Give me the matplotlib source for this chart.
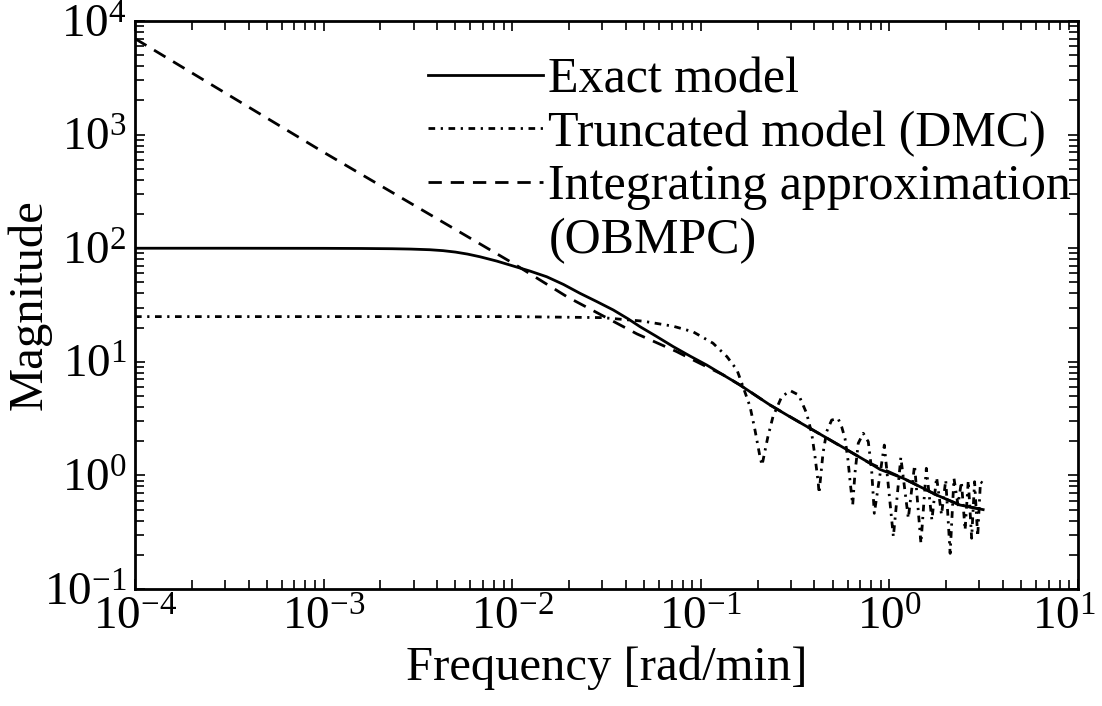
import matplotlib

matplotlib.use("Agg")
import matplotlib.pyplot as plt
from matplotlib.lines import Line2D
from matplotlib.transforms import ScaledTranslation

# values (frequency in rad/min, magnitude)
exact_w = [1e-4, 3e-4, 1e-3, 1.6e-3, 2.3e-3, 0.0029, 0.00366, 0.0043, 0.005, 0.0058,
           0.00675, 0.0083, 0.01014, 0.0124, 0.01524, 0.0187, 0.02288, 0.028, 0.03436,
           0.041, 0.0476, 0.058, 0.0715, 0.088, 0.1075, 0.13, 0.1614, 0.206, 0.2328,
           0.3, 0.379, 0.55, 0.789, 0.891, 1.185, 1.781, 2.366, 3.1416]
exact_mag = [100, 100, 99.8, 99.5, 99.0, 98.3, 97.0, 95.2, 92.5, 88.8,
             84.1, 77.0, 69.7, 63.0, 56.1, 48.0, 40.1, 34.0, 28.6,
             24.0, 20.4, 16.8, 13.6, 11.2, 9.37, 7.75, 6.25, 4.77, 4.17,
             3.25, 2.60, 1.82, 1.28, 1.13, 0.943, 0.672, 0.549, 0.50]

integ_w = [1e-4, 1e-3, 0.01012, 0.01953, 0.0459, 0.0745, 0.0909, 0.131, 0.1614,
           0.2328, 0.379, 0.789, 1.185, 1.781, 2.366, 3.1416]
integ_mag = [7000, 700, 73.6, 37.4, 17.6, 12.3, 10.4, 7.7, 6.25,
             4.17, 2.60, 1.28, 0.943, 0.672, 0.549, 0.50]

dmc_w = [1e-4, 1e-3, 0.01, 0.03, 0.0494, 0.0712, 0.0909, 0.116, 0.1377, 0.1556,
         0.1675, 0.1825, 0.1938, 0.206, 0.2112,
         0.2269, 0.2414, 0.2685, 0.2984, 0.3307, 0.3641, 0.3873, 0.4034, 0.4199, 0.4236,
         0.4446, 0.465, 0.4943, 0.534, 0.5585, 0.5816, 0.6031, 0.618, 0.6389,
         0.657, 0.684, 0.727, 0.773, 0.805, 0.832,
         0.94, 1.05, 1.15, 1.26, 1.36, 1.47, 1.57, 1.68, 1.78, 1.89, 1.99, 2.10,
         2.20, 2.31, 2.41, 2.52, 2.62, 2.73, 2.83, 2.94, 3.04, 3.1416]
dmc_mag = [25, 25, 25, 24.5, 22.8, 20.6, 18.4, 14.6, 11.1, 8.47,
           6.04, 4.03, 2.51, 1.46, 1.23,
           2.19, 3.29, 4.93, 5.57, 5.10, 3.52, 2.35, 1.46, 0.852, 0.696,
           1.565, 2.43, 3.07, 3.18, 2.68, 2.12, 1.37, 0.911, 0.549,
           1.05, 1.92, 2.35, 1.98, 1.12, 0.464,
           1.85, 0.289, 1.44, 0.42, 1.23, 0.252, 1.155, 0.405, 0.962, 0.45, 0.911, 0.206,
           0.943, 0.55, 0.88, 0.33, 0.90, 0.28, 0.88, 0.29, 0.88, 0.85]

x_decades = [1e-4, 1e-3, 1e-2, 1e-1, 1e0, 1e1]
labels = ["Exact model", "Truncated model (DMC)", "Integrating approximation", "(OBMPC)"]

plt.rcParams["font.family"] = ["Liberation Serif", "DejaVu Serif"]
plt.rcParams["mathtext.fontset"] = "custom"
plt.rcParams["mathtext.rm"] = "Liberation Serif"
plt.rcParams["mathtext.it"] = "Liberation Serif:italic"
plt.rcParams["mathtext.bf"] = "Liberation Serif:bold"

fig = plt.figure(figsize=(11.02, 7.06), dpi=100)
ax = fig.add_axes([0.1225, 0.1657, 0.8557, 0.8045])

lw = 2.0
l_exact, = ax.loglog(exact_w, exact_mag, color="black", lw=lw, ls="-")
l_dmc, = ax.loglog(dmc_w, dmc_mag, color="black", lw=lw, ls=(0, (2.4, 2.0, 0.8, 2.0)))
l_int, = ax.loglog(integ_w, integ_mag, color="black", lw=lw, ls=(0, (4.8, 3.2)))

ax.set_xlim(1e-4, 1e1)
ax.set_ylim(1e-1, 1e4)
ax.set_xticks(x_decades)
ax.set_xlabel("Frequency [rad/min]", fontsize=35, labelpad=4)
ax.set_ylabel("Magnitude", fontsize=35)
ax.yaxis.set_label_coords(-0.088, 0.5)

for s in ax.spines.values():
    s.set_linewidth(2.0)
ax.tick_params(which="both", direction="in", top=True, right=True, width=1.2)
ax.tick_params(which="major", length=7, labelsize=34, pad=6)
ax.tick_params(which="minor", length=6.5)

# last x label sits a little left so it stays inside the figure
last = ax.xaxis.get_major_ticks()[-1].label1
last.set_transform(last.get_transform() + ScaledTranslation(-0.14, 0, fig.dpi_scale_trans))

blank = Line2D([], [], linestyle="none")
ax.legend([l_exact, l_dmc, l_int, blank], labels, loc="upper left",
          bbox_to_anchor=(0.311, 0.937), frameon=False, fontsize=36,
          handlelength=2.3, handletextpad=0.1, labelspacing=0.14,
          borderpad=0, borderaxespad=0)

fig.savefig("out.png", dpi=100)
